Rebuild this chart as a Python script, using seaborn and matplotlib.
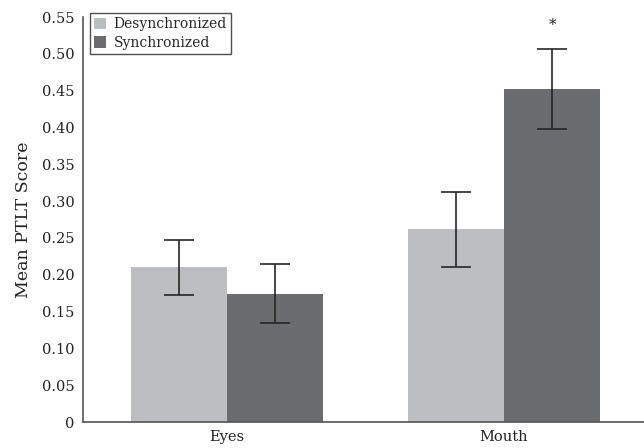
import matplotlib
matplotlib.use("Agg")
import matplotlib.pyplot as plt
import seaborn as sns
import pandas as pd
import numpy as np

# Mean PTLT scores by region and condition, with standard errors
regions = ["Eyes", "Mouth"]
conditions = ["Desynchronized", "Synchronized"]
desync_means = [0.210, 0.262]
sync_means = [0.174, 0.452]
desync_se = [0.037, 0.051]
sync_se = [0.040, 0.054]
y_ticks = [0, 0.05, 0.10, 0.15, 0.20, 0.25, 0.30, 0.35, 0.40, 0.45, 0.50, 0.55]
y_tick_labels = ["0", "0.05", "0.10", "0.15", "0.20", "0.25", "0.30",
                 "0.35", "0.40", "0.45", "0.50", "0.55"]
star_level = 0.539

df = pd.DataFrame({
    "Region": regions * 2,
    "Condition": [conditions[0]] * 2 + [conditions[1]] * 2,
    "Score": desync_means + sync_means,
    "SE": desync_se + sync_se,
})

sns.set_theme(style="white")
plt.rcParams["font.family"] = ["DejaVu Serif"]

palette = {"Desynchronized": "#bdbec1", "Synchronized": "#6b6c70"}

fig = plt.figure(figsize=(6.44, 4.48), dpi=100)
ax = fig.add_axes([0.129, 0.058, 0.871, 0.904])

sns.barplot(data=df, x="Region", y="Score", hue="Condition",
            order=regions, hue_order=conditions, palette=palette,
            width=0.695, errorbar=None, saturation=1, linewidth=0, ax=ax)

# Error bars placed at the centre of each drawn bar
for cond, container in zip(conditions, ax.containers):
    sub = df[df["Condition"] == cond].set_index("Region").loc[regions]
    xs = [p.get_x() + p.get_width() / 2 for p in container.patches]
    ax.errorbar(xs, sub["Score"].values, yerr=sub["SE"].values,
                fmt="none", ecolor="#262626", elinewidth=1.2,
                capsize=10.8, capthick=1.2, zorder=5)

# Significance marker above the synchronized mouth bar
mouth_sync = ax.containers[1].patches[1]
ax.text(mouth_sync.get_x() + mouth_sync.get_width() / 2, star_level, "*",
        ha="center", va="center", fontsize=11, color="#222222")

ax.set_ylim(0, 0.55)
ax.set_xlim(-0.52, 1.505)
ax.set_yticks(y_ticks)
ax.set_yticklabels(y_tick_labels, fontsize=10.5, color="#222222")
ax.tick_params(axis="x", labelsize=10.5, colors="#222222", length=0, pad=6)
ax.tick_params(axis="y", length=0, pad=6)
ax.set_xlabel("")
ax.set_ylabel("Mean PTLT Score", fontsize=12.5, color="#222222", labelpad=7)

for side in ["top", "right"]:
    ax.spines[side].set_visible(False)
for side in ["left", "bottom"]:
    ax.spines[side].set_color("#555555")
    ax.spines[side].set_linewidth(1.2)

leg = ax.legend(loc="upper left", bbox_to_anchor=(0.012, 1.01), fontsize=10,
                frameon=True, fancybox=False, edgecolor="#222222",
                handlelength=0.9, handleheight=0.9, handletextpad=0.5,
                borderpad=0.3, labelspacing=0.35, borderaxespad=0)
leg.get_frame().set_linewidth(1.0)

fig.savefig("out.png", dpi=100)
